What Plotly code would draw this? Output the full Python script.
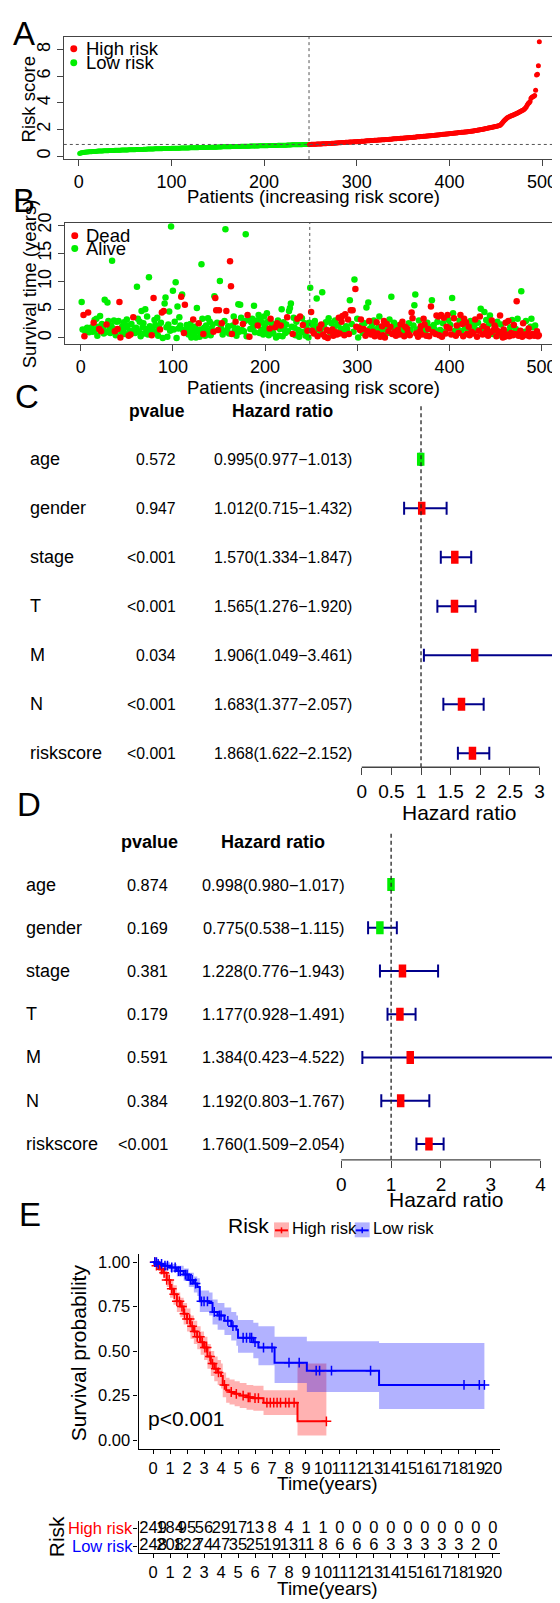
import plotly.graph_objects as go

W, H = 560, 1603          # target screenshot size
OFF = 8                   # default page body margin that shifts the figure
FW, FH = W - OFF, H - OFF # actual figure size so that it fills the window exactly
FONT = "Liberation Sans, Arial, sans-serif"

# ---------------- data ----------------
# Panel A: sorted risk scores
risk_low = [
    0.20, 0.23, 0.25, 0.26, 0.28, 0.29, 0.30, 0.31, 0.32, 0.32,
    0.33, 0.33, 0.34, 0.34, 0.35, 0.35, 0.36, 0.36, 0.37, 0.37,
    0.38, 0.38, 0.38, 0.39, 0.39, 0.39, 0.40, 0.40, 0.40, 0.41,
    0.41, 0.41, 0.42, 0.42, 0.42, 0.43, 0.43, 0.43, 0.44, 0.44,
    0.44, 0.44, 0.45, 0.45, 0.45, 0.46, 0.46, 0.46, 0.46, 0.47,
    0.47, 0.47, 0.47, 0.48, 0.48, 0.48, 0.48, 0.49, 0.49, 0.49,
    0.49, 0.50, 0.50, 0.50, 0.50, 0.51, 0.51, 0.51, 0.51, 0.52,
    0.52, 0.52, 0.52, 0.53, 0.53, 0.53, 0.53, 0.54, 0.54, 0.54,
    0.54, 0.55, 0.55, 0.55, 0.55, 0.55, 0.56, 0.56, 0.56, 0.56,
    0.57, 0.57, 0.57, 0.57, 0.57, 0.58, 0.58, 0.58, 0.58, 0.59,
    0.59, 0.59, 0.59, 0.59, 0.60, 0.60, 0.60, 0.60, 0.60, 0.61,
    0.61, 0.61, 0.61, 0.61, 0.62, 0.62, 0.62, 0.62, 0.62, 0.63,
    0.63, 0.63, 0.63, 0.63, 0.64, 0.64, 0.64, 0.64, 0.64, 0.65,
    0.65, 0.65, 0.65, 0.65, 0.66, 0.66, 0.66, 0.66, 0.66, 0.67,
    0.67, 0.67, 0.67, 0.67, 0.68, 0.68, 0.68, 0.68, 0.68, 0.69,
    0.69, 0.69, 0.69, 0.69, 0.70, 0.70, 0.70, 0.70, 0.70, 0.71,
    0.71, 0.71, 0.71, 0.71, 0.72, 0.72, 0.72, 0.72, 0.72, 0.73,
    0.73, 0.73, 0.73, 0.73, 0.74, 0.74, 0.74, 0.74, 0.74, 0.75,
    0.75, 0.75, 0.75, 0.75, 0.76, 0.76, 0.76, 0.76, 0.76, 0.77,
    0.77, 0.77, 0.77, 0.77, 0.78, 0.78, 0.78, 0.78, 0.78, 0.79,
    0.79, 0.79, 0.79, 0.79, 0.80, 0.80, 0.80, 0.80, 0.80, 0.81,
    0.81, 0.81, 0.81, 0.81, 0.82, 0.82, 0.82, 0.82, 0.82, 0.83,
    0.83, 0.83, 0.83, 0.83, 0.84, 0.84, 0.84, 0.84, 0.84, 0.85,
    0.85, 0.85, 0.85, 0.85, 0.85, 0.86, 0.86, 0.86, 0.86, 0.86,
    0.86, 0.87, 0.87, 0.87, 0.87, 0.87, 0.88, 0.88,
]
risk_high = [
    0.88, 0.88, 0.89, 0.89, 0.89, 0.90, 0.90, 0.90, 0.91, 0.91,
    0.91, 0.92, 0.92, 0.92, 0.93, 0.93, 0.94, 0.94, 0.94, 0.95,
    0.95, 0.96, 0.96, 0.96, 0.97, 0.97, 0.98, 0.98, 0.99, 0.99,
    0.99, 1.00, 1.00, 1.01, 1.01, 1.02, 1.02, 1.03, 1.03, 1.04,
    1.04, 1.05, 1.05, 1.06, 1.06, 1.07, 1.07, 1.07, 1.08, 1.08,
    1.09, 1.09, 1.10, 1.10, 1.11, 1.11, 1.12, 1.12, 1.13, 1.13,
    1.14, 1.14, 1.15, 1.15, 1.16, 1.16, 1.17, 1.17, 1.18, 1.18,
    1.19, 1.19, 1.20, 1.20, 1.21, 1.21, 1.22, 1.22, 1.23, 1.23,
    1.24, 1.24, 1.25, 1.25, 1.26, 1.26, 1.27, 1.27, 1.28, 1.29,
    1.29, 1.30, 1.30, 1.31, 1.31, 1.32, 1.33, 1.33, 1.34, 1.34,
    1.35, 1.35, 1.36, 1.37, 1.37, 1.38, 1.38, 1.39, 1.40, 1.40,
    1.41, 1.41, 1.42, 1.43, 1.43, 1.44, 1.45, 1.45, 1.46, 1.46,
    1.47, 1.48, 1.48, 1.49, 1.50, 1.50, 1.51, 1.52, 1.52, 1.53,
    1.54, 1.54, 1.55, 1.56, 1.56, 1.57, 1.58, 1.59, 1.59, 1.60,
    1.61, 1.61, 1.62, 1.63, 1.64, 1.64, 1.65, 1.66, 1.67, 1.67,
    1.68, 1.69, 1.70, 1.70, 1.71, 1.72, 1.73, 1.74, 1.75, 1.75,
    1.76, 1.77, 1.78, 1.78, 1.79, 1.80, 1.80, 1.81, 1.82, 1.82,
    1.83, 1.84, 1.85, 1.86, 1.87, 1.88, 1.89, 1.90, 1.91, 1.92,
    1.93, 1.95, 1.96, 1.97, 1.99, 2.00, 2.01, 2.03, 2.04, 2.05,
    2.07, 2.08, 2.10, 2.11, 2.13, 2.14, 2.16, 2.17, 2.19, 2.20,
    2.22, 2.23, 2.25, 2.27, 2.29, 2.31, 2.35, 2.42, 2.50, 2.58,
    2.66, 2.74, 2.80, 2.86, 2.91, 2.95, 2.98, 3.01, 3.04, 3.07,
    3.10, 3.13, 3.16, 3.19, 3.22, 3.26, 3.30, 3.33, 3.37, 3.41,
    3.45, 3.49, 3.55, 3.62, 3.72, 3.85, 3.95, 4.02, 4.10, 4.35,
    4.42, 4.47, 4.50, 4.55, 4.95, 6.10, 6.15, 6.80, 8.60,
]
risk_cutoff = 0.88

# Panel B: survival time (years) and status (1 = dead) per patient
surv_time = [
    6.4, 1.5, 4.1, 0.3, 1.2, 1.6, 1.8, 4.5, 1.0, 1.7,
    1.3, 1.9, 1.1, 2.7, 3.2, 1.4, 3.4, 0.4, 2.0, 1.6,
    3.9, 1.2, 2.5, 1.8, 0.8, 6.8, 1.0, 2.4, 6.3, 3.0,
    1.5, 0.9, 2.2, 13.7, 1.7, 3.1, 1.2, 0.5, 2.9, 1.6,
    3.0, 6.4, 0.1, 1.1, 2.1, 1.4, 2.8, 0.7, 1.9, 3.3,
    2.2, 0.4, 1.3, 0.6, 2.5, 1.0, 3.7, 1.5, 0.9, 1.8,
    9.1, 3.4, 1.2, 2.9, 0.3, 4.8, 1.9, 2.6, 0.8, 5.1,
    1.6, 3.8, 0.6, 10.8, 2.1, 1.4, 0.5, 1.7, 7.1, 3.2,
    2.3, 1.1, 3.6, 0.4, 1.8, 1.5, 2.7, 4.5, 0.0, 4.8,
    6.1, 7.2, 1.9, 0.2, 2.4, 4.7, 1.3, 19.8, 1.6, 8.4,
    1.5, 2.9, 9.9, 0.0, 5.6, 1.7, 3.7, 2.2, 7.3, 7.7,
    1.4, 0.9, 5.9, 1.0, 2.3, 1.8, 0.6, 1.3, 2.5, 0.1,
    1.6, 3.3, 0.8, 2.0, 0.1, 5.3, 1.2, 2.6, 0.2, 1.5,
    13.1, 3.4, 0.7, 1.8, 0.4, 2.2, 1.0, 3.5, 1.3, 2.9,
    0.5, 1.7, 2.4, 1.1, 7.4, 7.1, 4.9, 2.7, 1.4, 4.9,
    10.1, 1.9, 2.6, 0.6, 1.2, 3.0, 19.3, 4.8, 1.5, 2.1,
    0.8, 13.6, 9.2, 0.7, 2.2, 3.8, 1.3, 2.9, 0.4, 1.7,
    6.0, 1.1, 5.9, 3.6, 1.4, 2.5, 1.2, 3.0, 18.4, 0.3,
    4.1, 3.3, 0.2, 1.6, 2.8, 3.4, 1.9, 5.7, 1.0, 2.4,
    3.1, 2.2, 4.1, 0.9, 3.5, 1.5, 2.7, 0.6, 3.8, 2.0,
    1.3, 4.4, 2.9, 0.5, 1.7, 3.4, 2.6, 1.1, 0.8, 2.1,
    1.9, 0.1, 2.6, 3.1, 0.4, 1.6, 2.2, 5.1, 0.3, 2.8,
    1.5, 0.9, 2.4, 3.7, 1.2, 4.8, 5.3, 6.1, 2.0, 0.7,
    3.6, 1.8, 0.5, 2.9, 3.4, 1.4, 0.2, 3.8, 1.1, 3.5,
    2.3, 1.0, 2.6, 0.4, 1.9, 1.3, 0.1, 2.7, 8.9,
    4.6, 1.3, 2.2, 0.8, 3.0, 1.5, 7.0, 0.3, 2.1, 1.7,
    1.1, 2.4, 8.1, 0.6, 1.9, 0.2, 2.8, 1.4, 0.0, 3.5,
    1.2, 0.9, 2.6, 1.5, 0.4, 2.0, 3.1, 1.0, 0.6, 2.3,
    3.6, 0.8, 1.7, 2.9, 3.9, 1.3, 0.5, 4.2, 2.1, 1.6,
    3.3, 0.7, 6.7, 4.9, 2.5, 4.9, 1.1, 10.4, 8.7, 2.0,
    3.4, 0.1, 1.8, 1.4, 3.3, 2.2, 0.9, 1.6, 2.6, 0.4,
    5.4, 1.2, 6.3, 3.0, 1.7, 0.6, 2.4, 1.1, 3.1, 0.3,
    1.5, 2.8, 0.8, 1.9, 3.8, 0.2, 1.3, 2.1, 0.5, 3.0,
    0.1, 1.6, 2.5, 0.9, 1.2, 3.3, 2.0, 7.3, 0.7, 1.8,
    2.7, 1.1, 0.4, 2.2, 1.4, 1.9, 0.6, 2.4, 1.0, 2.9,
    1.3, 0.3, 2.0, 1.6, 1.7, 0.9, 2.6, 0.5, 1.4, 4.5,
    3.5, 2.2, 5.8, 7.7, 0.8, 1.5, 0.2, 3.1, 1.2, 2.1,
    0.6, 1.8, 3.4, 2.4, 1.1, 0.4, 2.7, 1.6, 0.3, 1.9,
    5.6, 6.7, 1.0, 2.3, 1.5, 0.7, 4.0, 2.9, 3.8, 0.5,
    1.4, 4.1, 0.2, 2.6, 3.6, 1.1, 0.8, 2.0, 4.1, 3.2,
    1.7, 2.3, 0.6, 7.1, 4.4, 3.5, 1.3, 0.4, 2.2, 1.6,
    0.9, 3.1, 4.1, 1.2, 2.5, 0.3, 3.4, 1.8, 2.8, 0.7,
    1.5, 2.0, 0.5, 3.0, 1.1, 2.4, 0.8, 1.9, 3.3, 1.4,
    0.2, 2.7, 1.3, 3.8, 5.2, 1.7, 0.6, 2.1, 4.6, 0.9,
    3.2, 1.6, 0.4, 2.5, 4.0, 1.0, 3.1, 0.7, 1.4, 2.2,
    1.8, 0.3, 2.9, 1.2, 0.5, 4.0, 2.4, 0.8, 0.1, 1.5,
    0.2, 2.7, 0.6, 1.0, 3.0, 0.3, 1.9, 0.9, 3.2, 0.5,
    2.3, 0.7, 1.6, 6.5, 3.4, 0.4, 0.9, 1.3, 8.3, 0.2,
    2.6, 0.6, 1.1, 3.0, 0.5, 0.8, 1.7, 0.3, 2.0, 3.4,
    0.7, 1.9, 0.4, 2.2, 0.6, 1.2, 0.3, 0.5,
]
surv_status = [
    0, 0, 1, 1, 0, 0, 0, 1, 0, 0,
    0, 0, 0, 1, 0, 0, 0, 0, 0, 1,
    0, 1, 0, 0, 0, 0, 0, 1, 0, 0,
    0, 0, 0, 0, 0, 0, 1, 0, 0, 1,
    0, 1, 1, 0, 0, 0, 0, 0, 0, 0,
    0, 1, 0, 1, 0, 0, 1, 0, 0, 0,
    0, 0, 0, 0, 0, 0, 0, 0, 0, 0,
    0, 0, 0, 0, 0, 0, 1, 0, 1, 0,
    0, 0, 0, 0, 0, 1, 0, 1, 0, 1,
    0, 0, 0, 0, 0, 0, 0, 0, 0, 0,
    0, 0, 0, 0, 0, 0, 0, 0, 1, 0,
    0, 1, 1, 0, 0, 0, 0, 0, 0, 0,
    0, 1, 0, 0, 0, 0, 0, 1, 0, 0,
    0, 0, 1, 0, 0, 0, 0, 0, 0, 0,
    0, 0, 0, 1, 0, 1, 1, 0, 1, 1,
    0, 0, 1, 0, 0, 0, 0, 1, 0, 0,
    0, 1, 1, 1, 0, 0, 0, 1, 0, 0,
    0, 0, 0, 0, 0, 1, 0, 0, 0, 0,
    1, 0, 1, 0, 0, 0, 0, 0, 0, 0,
    0, 1, 0, 0, 0, 0, 0, 0, 0, 0,
    0, 0, 0, 0, 1, 1, 0, 0, 0, 0,
    1, 0, 1, 0, 0, 0, 1, 0, 0, 0,
    0, 0, 0, 1, 0, 0, 0, 0, 0, 1,
    0, 0, 0, 0, 1, 0, 0, 1, 0, 0,
    1, 0, 0, 0, 0, 1, 0, 0, 0,
    1, 1, 0, 1, 0, 0, 0, 1, 0, 1,
    0, 1, 0, 1, 0, 1, 0, 1, 1, 0,
    1, 0, 0, 1, 1, 0, 0, 1, 1, 0,
    1, 1, 0, 1, 1, 0, 1, 1, 0, 0,
    1, 1, 0, 1, 0, 1, 0, 0, 1, 1,
    0, 0, 1, 1, 1, 0, 0, 1, 0, 1,
    0, 1, 0, 1, 0, 1, 0, 1, 0, 1,
    0, 1, 1, 0, 0, 1, 0, 1, 1, 1,
    1, 0, 1, 0, 1, 0, 1, 0, 1, 0,
    0, 1, 1, 0, 1, 0, 1, 1, 0, 1,
    0, 1, 1, 0, 1, 1, 0, 1, 0, 1,
    1, 0, 0, 0, 1, 0, 1, 0, 1, 1,
    1, 0, 1, 1, 0, 1, 0, 1, 1, 0,
    1, 0, 1, 0, 0, 1, 1, 0, 1, 1,
    0, 1, 1, 0, 1, 0, 1, 1, 1, 0,
    1, 0, 1, 0, 0, 1, 0, 1, 1, 0,
    1, 0, 1, 0, 1, 1, 1, 0, 1, 1,
    0, 1, 1, 0, 1, 0, 1, 0, 1, 0,
    1, 0, 1, 1, 0, 0, 1, 1, 0, 1,
    0, 1, 1, 0, 0, 1, 1, 0, 1, 1,
    1, 1, 0, 1, 0, 1, 0, 1, 1, 1,
    1, 1, 1, 0, 1, 1, 0, 1, 0, 1,
    1, 1, 0, 1, 0, 1, 1, 1, 0, 1,
    1, 1, 0, 0, 1, 1, 1, 1, 0, 0,
    1, 0, 1, 0, 1, 1, 1, 1,
]

# Panels C / D: forest plots
forest_vars = ["age", "gender", "stage", "T", "M", "N", "riskscore"]
uni_p = ["0.572", "0.947", "<0.001", "<0.001", "0.034", "<0.001", "<0.001"]
uni_hr = [0.995, 1.012, 1.570, 1.565, 1.906, 1.683, 1.868]
uni_lo = [0.977, 0.715, 1.334, 1.276, 1.049, 1.377, 1.622]
uni_hi = [1.013, 1.432, 1.847, 1.920, 3.461, 2.057, 2.152]
multi_p = ["0.874", "0.169", "0.381", "0.179", "0.591", "0.384", "<0.001"]
multi_hr = [0.998, 0.775, 1.228, 1.177, 1.384, 1.192, 1.760]
multi_lo = [0.980, 0.538, 0.776, 0.928, 0.423, 0.803, 1.509]
multi_hi = [1.017, 1.115, 1.943, 1.491, 4.522, 1.767, 2.054]

# Panel E: Kaplan-Meier step curves with confidence bands
km_high_t = [0, 0.2, 0.4, 0.6, 0.8, 1.0, 1.2, 1.4, 1.6, 1.8, 2.0, 2.2, 2.4, 2.6, 2.8, 3.0,
             3.2, 3.4, 3.6, 3.8, 4.0, 4.1, 4.3, 4.5, 4.8, 5.1, 5.5, 5.9, 6.5, 8.5, 10.2]
km_high_s = [1.0, 0.98, 0.96, 0.94, 0.90, 0.85, 0.82, 0.78, 0.75, 0.71, 0.68, 0.64, 0.61, 0.58, 0.55, 0.52,
             0.47, 0.43, 0.40, 0.38, 0.36, 0.31, 0.28, 0.27, 0.26, 0.25, 0.24, 0.235, 0.21, 0.105, 0.105]
km_high_up = [1.0, 1.0, 0.99, 0.97, 0.94, 0.90, 0.87, 0.83, 0.80, 0.77, 0.74, 0.70, 0.67, 0.64, 0.61, 0.58,
              0.54, 0.50, 0.47, 0.45, 0.43, 0.38, 0.35, 0.34, 0.33, 0.32, 0.31, 0.305, 0.28, 0.43, 0.43]
km_high_lo = [1.0, 0.96, 0.93, 0.91, 0.86, 0.80, 0.76, 0.72, 0.69, 0.65, 0.61, 0.57, 0.54, 0.51, 0.48, 0.45,
              0.40, 0.36, 0.33, 0.31, 0.29, 0.24, 0.21, 0.20, 0.19, 0.18, 0.17, 0.165, 0.14, 0.025, 0.025]
km_high_cens = [0.1, 0.2, 0.35, 0.5, 0.65, 0.8, 0.95, 1.1, 1.25, 1.4, 1.55, 1.7, 1.85, 2.0, 2.15, 2.3,
                2.45, 2.6, 2.75, 2.9, 3.05, 3.15, 3.35, 3.5, 3.7, 3.85, 4.2, 4.6, 4.9, 5.3, 5.6, 5.7,
                6.0, 6.2, 6.7, 6.9, 7.1, 7.3, 7.5, 7.8, 8.0, 8.3, 10.2]
km_low_t = [0, 0.3, 0.6, 1.0, 1.4, 1.8, 2.1, 2.4, 2.6, 2.75, 3.3, 3.5, 3.8, 4.2, 4.6, 4.9,
            5.0, 5.9, 6.2, 7.15, 9.05, 13.3, 19.5]
km_low_s = [1.0, 0.99, 0.98, 0.97, 0.95, 0.93, 0.90, 0.88, 0.86, 0.78, 0.77, 0.72, 0.70, 0.67, 0.64, 0.62,
            0.575, 0.55, 0.52, 0.435, 0.39, 0.31, 0.31]
km_low_up = [1.0, 1.0, 1.0, 0.99, 0.98, 0.965, 0.94, 0.92, 0.91, 0.84, 0.83, 0.79, 0.77, 0.745, 0.72, 0.70,
             0.675, 0.66, 0.64, 0.58, 0.555, 0.545, 0.545]
km_low_lo = [1.0, 0.98, 0.96, 0.945, 0.92, 0.895, 0.86, 0.83, 0.81, 0.72, 0.70, 0.65, 0.62, 0.59, 0.56, 0.53,
             0.49, 0.46, 0.42, 0.32, 0.27, 0.175, 0.175]
km_low_cens = [0.1, 0.2, 0.3, 0.5, 0.7, 0.85, 1.1, 1.3, 1.5, 1.6, 1.9, 2.0, 2.2, 2.3, 2.5, 2.85, 3.0, 3.2,
               3.6, 3.9, 4.0, 4.4, 4.7, 5.3, 5.5, 5.7, 5.8, 6.0, 6.5, 7.0, 8.0, 8.6, 9.6, 9.8, 10.5,
               12.8, 18.3, 19.2, 19.5]
km_ticks = list(range(0, 21))
risk_table_high = [249, 184, 95, 56, 29, 17, 13, 8, 4, 1, 1, 0, 0, 0, 0, 0, 0, 0, 0, 0, 0]
risk_table_low = [248, 208, 122, 74, 47, 35, 25, 19, 13, 11, 8, 6, 6, 6, 3, 3, 3, 3, 3, 2, 0]

RED, GREEN, BLUE, DBLUE = "#FF0000", "#00EE00", "#0000FF", "#00008B"


# ---------------- helpers (window pixel -> paper fraction) ----------------
def px(x):
    return (x - OFF) / FW


def py(y):
    return 1 - (y - OFF) / FH


def ann(text, x, y, size, xanchor="center", color="black", bold=False, angle=0):
    if bold:
        text = "<b>" + text + "</b>"
    return dict(text=text, x=px(x), y=py(y), xref="paper", yref="paper", showarrow=False,
                xanchor=xanchor, yanchor="middle", textangle=angle,
                font=dict(family=FONT, size=size, color=color))


def step_at(ts, ss, t):
    v = ss[0]
    for tt, s in zip(ts, ss):
        if tt <= t:
            v = s
    return v


fig = go.Figure()
annotations = []
shapes = []

# ---------------- Panel A ----------------
n_low = len(risk_low)
idx_low = list(range(1, n_low + 1))
idx_high = list(range(n_low + 1, n_low + len(risk_high) + 1))
fig.add_trace(go.Scatter(x=idx_low, y=risk_low, mode="markers", xaxis="x", yaxis="y",
                         marker=dict(color=GREEN, size=5)))
fig.add_trace(go.Scatter(x=idx_high, y=risk_high, mode="markers", xaxis="x", yaxis="y",
                         marker=dict(color=RED, size=5)))
shapes.append(dict(type="line", xref="x", yref="y domain", x0=n_low + 0.5, x1=n_low + 0.5, y0=0, y1=1,
                   line=dict(color="#555", width=1, dash="dot")))
shapes.append(dict(type="line", xref="x domain", yref="y", x0=0, x1=1, y0=risk_cutoff, y1=risk_cutoff,
                   line=dict(color="#555", width=1, dash="dot")))

# ---------------- Panel B ----------------
pat = list(range(1, len(surv_time) + 1))
dead_x = [p for p, s in zip(pat, surv_status) if s == 1]
dead_y = [t for t, s in zip(surv_time, surv_status) if s == 1]
alive_x = [p for p, s in zip(pat, surv_status) if s == 0]
alive_y = [t for t, s in zip(surv_time, surv_status) if s == 0]
fig.add_trace(go.Scatter(x=alive_x, y=alive_y, mode="markers", xaxis="x2", yaxis="y2",
                         marker=dict(color=GREEN, size=6.5)))
fig.add_trace(go.Scatter(x=dead_x, y=dead_y, mode="markers", xaxis="x2", yaxis="y2",
                         marker=dict(color=RED, size=6.5)))
shapes.append(dict(type="line", xref="x2", yref="y2 domain", x0=n_low + 0.5, x1=n_low + 0.5, y0=0, y1=1,
                   line=dict(color="#555", width=1, dash="dot")))

# legends A / B
for (cx, cy, col, txt) in [(74, 39, RED, "High risk"), (74, 53, GREEN, "Low risk"),
                           (75, 227, RED, "Dead"), (75, 240, GREEN, "Alive")]:
    shapes.append(dict(type="circle", xref="paper", yref="paper", x0=px(cx - 3.5), x1=px(cx + 3.5),
                       y0=py(cy + 3.5), y1=py(cy - 3.5), fillcolor=col, line=dict(width=0)))
    annotations.append(ann(txt, 84, cy, 18.5, xanchor="left"))


# ---------------- Panels C / D (forest) ----------------
def forest(xa, ya, hr, lo, hi, pvals, rows_y, lab_x, p_right, hr_cx, head_y, head_p_x, head_hr_x,
           fs_lab, fs_txt, fs_head, axis_py, axis_max):
    ks = [-i for i in range(len(hr))]
    cols = [RED if h > 1 else GREEN for h in hr]
    fig.add_trace(go.Scatter(
        x=hr, y=ks, mode="markers", xaxis=xa, yaxis=ya,
        error_x=dict(type="data", symmetric=False, array=[h - m for h, m in zip(hi, hr)],
                     arrayminus=[m - l for m, l in zip(hr, lo)], color=DBLUE, thickness=2, width=6.5),
        marker=dict(symbol="line-ns", size=9.3, color=cols, line=dict(color=cols, width=7.5))))
    shapes.append(dict(type="line", xref=xa, yref=ya + " domain", x0=1, x1=1, y0=0, y1=1,
                       line=dict(color="#222", width=1.3, dash="4px,3px")))
    shapes.append(dict(type="line", xref=xa, yref="paper", x0=0, x1=axis_max, y0=py(axis_py),
                       y1=py(axis_py), line=dict(color="#444", width=1.3)))
    annotations.append(ann("pvalue", head_p_x, head_y, fs_head, bold=True))
    annotations.append(ann("Hazard ratio", head_hr_x, head_y, fs_head, bold=True))
    for i, v in enumerate(forest_vars):
        yy = rows_y[0] + i * (rows_y[1] - rows_y[0]) / (len(forest_vars) - 1)
        annotations.append(ann(v, lab_x, yy, fs_lab, xanchor="left"))
        annotations.append(ann(pvals[i], p_right, yy, fs_txt, xanchor="right"))
        annotations.append(ann("%.3f(%.3f\u2212%.3f)" % (hr[i], lo[i], hi[i]), hr_cx, yy, fs_txt))


forest("x3", "y3", uni_hr, uni_lo, uni_hi, uni_p, (452, 748), 28, 179, 284, 403, 158, 283,
       18, 15.8, 17.5, 762, 3)
forest("x4", "y4", multi_hr, multi_lo, multi_hi, multi_p, (880, 1141), 24, 171, 274, 837, 150, 274,
       18, 16.3, 18, 1157, 4)
annotations.append(ann("Hazard ratio", 461, 808, 21))
annotations.append(ann("Hazard ratio", 448, 1197, 21))

# ---------------- Panel E (KM) ----------------
for ts, up, lo_, fc in [(km_high_t, km_high_up, km_high_lo, "rgba(255,0,0,0.3)"),
                        (km_low_t, km_low_up, km_low_lo, "rgba(0,0,255,0.3)")]:
    fig.add_trace(go.Scatter(x=ts, y=up, mode="lines", line=dict(width=0, shape="hv"),
                             xaxis="x5", yaxis="y5"))
    fig.add_trace(go.Scatter(x=ts, y=lo_, mode="lines", line=dict(width=0, shape="hv"),
                             fill="tonexty", fillcolor=fc, xaxis="x5", yaxis="y5"))
for ts, ss, cens, col in [(km_high_t, km_high_s, km_high_cens, RED),
                          (km_low_t, km_low_s, km_low_cens, BLUE)]:
    fig.add_trace(go.Scatter(x=ts, y=ss, mode="lines", line=dict(color=col, width=2, shape="hv"),
                             xaxis="x5", yaxis="y5"))
    fig.add_trace(go.Scatter(x=cens, y=[step_at(ts, ss, c) for c in cens], mode="markers",
                             xaxis="x5", yaxis="y5",
                             marker=dict(symbol="cross-thin", size=7, color=col,
                                         line=dict(color=col, width=1.5))))
annotations.append(ann("p<0.001", 187, 1417, 21))
annotations.append(ann("Survival probability", 79, 1351, 21, angle=-90))
annotations.append(ann("Time(years)", 329, 1483, 19))

# legend E
annotations.append(ann("Risk", 249, 1223, 21))
for x0, col, fc, txt in [(275, RED, "rgba(255,0,0,0.3)", "High risk"), (356, BLUE, "rgba(0,0,255,0.3)", "Low risk")]:
    shapes.append(dict(type="rect", xref="paper", yref="paper", x0=px(x0), x1=px(x0 + 15),
                       y0=py(1235), y1=py(1220), fillcolor=fc, line=dict(width=0)))
    shapes.append(dict(type="line", xref="paper", yref="paper", x0=px(x0 + 1), x1=px(x0 + 14),
                       y0=py(1228), y1=py(1228), line=dict(color=col, width=2)))
    shapes.append(dict(type="line", xref="paper", yref="paper", x0=px(x0 + 7.5), x1=px(x0 + 7.5),
                       y0=py(1231), y1=py(1225), line=dict(color=col, width=1.5)))
    annotations.append(ann(txt, x0 + 16, 1226, 16.5, xanchor="left"))

# risk table
fig.add_trace(go.Scatter(x=km_ticks, y=[1] * len(km_ticks), mode="text", xaxis="x6", yaxis="y6",
                         text=[str(v) for v in risk_table_high], cliponaxis=False,
                         textfont=dict(family=FONT, size=16.5, color="black")))
fig.add_trace(go.Scatter(x=km_ticks, y=[0] * len(km_ticks), mode="text", xaxis="x6", yaxis="y6",
                         text=[str(v) for v in risk_table_low], cliponaxis=False,
                         textfont=dict(family=FONT, size=16.5, color="black")))
annotations.append(ann("High risk", 135, 1528, 16.5, xanchor="right", color=RED))
annotations.append(ann("Low risk", 135, 1546, 16.5, xanchor="right", color=BLUE))
annotations.append(ann("Risk", 57, 1536, 21, angle=-90))
annotations.append(ann("Time(years)", 329, 1588, 19))

# panel letters
for letter, x, y in [("A", 24, 24), ("B", 24, 192), ("C", 27, 389), ("D", 29, 799), ("E", 30, 1212)]:
    annotations.append(ann(letter, x, y, 33))

annotations.append(ann("Risk score", 29, 90, 18.5, angle=-90))
annotations.append(ann("Patients (increasing risk score)", 315, 188, 18.5))
annotations.append(ann("Survival time (years)", 29, 275, 18.5, angle=-90))
annotations.append(ann("Patients (increasing risk score)", 315, 380, 18.5))

# ---------------- axes ----------------
tf18 = dict(family=FONT, size=18, color="black")
box = dict(showline=True, mirror=True, linecolor="#444", linewidth=1, ticks="outside", ticklen=6,
           tickcolor="#444", showgrid=False, zeroline=False, tickfont=tf18)
forest_ax = dict(showline=False, ticks="outside", ticklen=7, tickcolor="#444", tickwidth=1.3,
                 showgrid=False, zeroline=False, tickangle=0,
                 tickfont=dict(family=FONT, size=19, color="black"))
hidden = dict(visible=False, showgrid=False, zeroline=False)
km_ax = dict(showline=True, linecolor="black", linewidth=1.2, ticks="outside", ticklen=4,
             tickcolor="black", showgrid=False, zeroline=False,
             tickfont=dict(family=FONT, size=16.5, color="black"))

fig.update_layout(
    width=FW, height=FH, margin=dict(l=0, r=0, t=0, b=0), showlegend=False,
    paper_bgcolor="white", plot_bgcolor="white", font=dict(family=FONT),
    xaxis=dict(domain=[px(64), px(558)], range=[-16.1, 515], tickvals=[0, 100, 200, 300, 400, 500],
               tickangle=0, anchor="y", **box),
    yaxis=dict(domain=[py(150), py(27)], range=[-0.22, 8.96], tickvals=[0, 2, 4, 6, 8], tickangle=-90,
               anchor="x", **box),
    xaxis2=dict(domain=[px(65), px(557)], range=[-17.3, 514.6], tickvals=[0, 100, 200, 300, 400, 500],
                tickangle=0, anchor="y2", **box),
    yaxis2=dict(domain=[py(336), py(214)], range=[-1.06, 20.46], tickvals=[0, 5, 10, 15, 20],
                tickangle=-90, anchor="x2", **box),
    xaxis3=dict(domain=[px(340), 1.0], range=[-0.387, 3.311], tickvals=[0, 0.5, 1, 1.5, 2, 2.5, 3],
                ticktext=["0", "0.5", "1", "1.5", "2", "2.5", "3"], anchor="y3", **forest_ax),
    yaxis3=dict(domain=[py(762), py(397)], range=[-6.284, 1.115], anchor="x3", **hidden),
    xaxis4=dict(domain=[px(320), 1.0], range=[-0.45, 4.35], tickvals=[0, 1, 2, 3, 4],
                anchor="y4", **forest_ax),
    yaxis4=dict(domain=[py(1157), py(826)], range=[-6.368, 1.241], anchor="x4", **hidden),
    xaxis5=dict(domain=[px(139), px(502)], range=[-0.856, 20.43], tickvals=km_ticks, tickangle=0,
                anchor="y5", **km_ax),
    yaxis5=dict(domain=[py(1448), py(1252)], range=[-0.0503, 1.0447], tickvals=[0, 0.25, 0.5, 0.75, 1],
                ticktext=["0.00", "0.25", "0.50", "0.75", "1.00"], anchor="x5", **km_ax),
    xaxis6=dict(domain=[px(139), px(502)], range=[-0.856, 20.43], tickvals=km_ticks, tickangle=0,
                anchor="y6", **km_ax),
    yaxis6=dict(domain=[py(1553), py(1520)], range=[-0.389, 1.444], tickvals=[0, 1],
                showticklabels=False, anchor="x6",
                **{k: v for k, v in km_ax.items() if k != "tickfont"}),
    annotations=annotations, shapes=shapes,
)

fig.write_html("out.html")
